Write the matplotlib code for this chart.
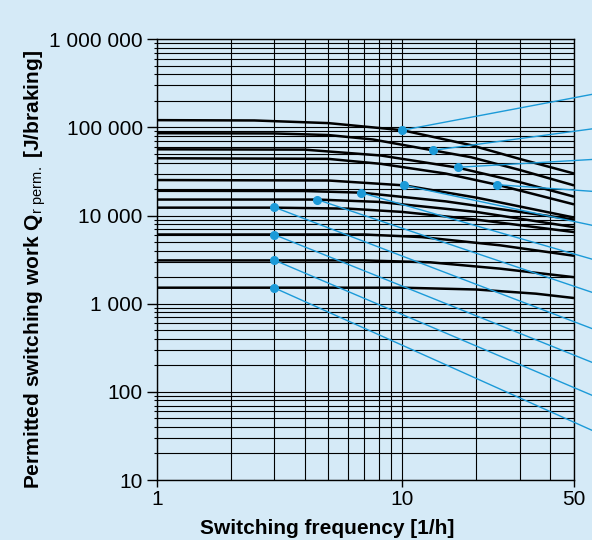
import matplotlib
matplotlib.use('Agg')
import matplotlib.pyplot as plt
from matplotlib.ticker import LogLocator, NullFormatter

plt.rcParams['font.family'] = ['Liberation Sans', 'DejaVu Sans']
plt.rcParams['mathtext.fontset'] = 'custom'
plt.rcParams['mathtext.rm'] = 'Liberation Sans'
plt.rcParams['mathtext.bf'] = 'Liberation Sans:bold'

BG = '#d5eaf7'
BLUE = '#1b9ad8'

# curves: switching frequency [1/h] -> permitted switching work [J]
c1_f = [1, 2.5, 5, 10, 19, 30, 50]
c1_q = [121000, 120000, 112000, 93000, 63000, 44000, 30000]
c2_f = [1, 3, 5, 7.6, 13.3, 19, 30, 50]
c2_q = [86000, 85500, 82000, 73000, 55000, 46000, 33000, 22000]
c3_f = [1, 4, 8.2, 16.8, 30, 50]
c3_q = [56500, 56000, 48000, 35000, 24000, 16400]
c4_f = [1, 5, 8.2, 15, 24.3, 50]
c4_q = [44700, 44000, 38600, 30000, 22400, 13400]
c5_f = [1, 5, 10.2, 20, 50]
c5_q = [25300, 25000, 22000, 16000, 9500]
c6_f = [1, 4, 6.8, 15, 50]
c6_q = [19100, 19000, 18200, 14500, 9000]
c7_f = [1, 4.5, 8, 20, 50]
c7_q = [15200, 15200, 14300, 11000, 7400]
c8_f = [1, 3, 6, 10, 20, 50]
c8_q = [12300, 12300, 12000, 11000, 9000, 6500]
c9_f = [1, 7, 12, 25, 50]
c9_q = [6100, 6100, 5700, 4600, 3500]
c10_f = [1, 7, 13, 25, 50]
c10_q = [3100, 3100, 2950, 2500, 2000]
c11_f = [1, 10, 20, 35, 50]
c11_q = [1520, 1520, 1450, 1300, 1160]

curves = [(c1_f, c1_q), (c2_f, c2_q), (c3_f, c3_q), (c4_f, c4_q),
          (c5_f, c5_q), (c6_f, c6_q), (c7_f, c7_q), (c8_f, c8_q),
          (c9_f, c9_q), (c10_f, c10_q), (c11_f, c11_q)]

# marker points and where their leader lines leave the picture
dot_f = [10, 13.3, 16.8, 24.3, 10.2, 6.8, 4.5, 3, 3, 3, 3]
dot_q = [93000, 55000, 35300, 22400, 22000, 18200, 15200, 12500, 6100, 3140, 1520]
lead_f = 60
lead_q = [239000, 96800, 43400, 18800, 7700, 3170, 1330, 515, 213, 90, 36]

ytick_vals = [10, 100, 1000, 10000, 100000, 1000000]
ytick_labels = ['10', '100', '1 000', '10 000', '100 000', '1 000 000']
xtick_vals = [1, 10, 50]
xtick_labels = ['1', '10', '50']

fig = plt.figure(figsize=(5.92, 5.40), dpi=100, facecolor=BG)
ax = fig.add_axes([156.7 / 592, 60 / 540, (574 - 156.7) / 592, 440.7 / 540])
ax.set_facecolor(BG)
ax.set_xscale('log')
ax.set_yscale('log')
ax.set_xlim(1, 50)
ax.set_ylim(10, 1000000)

ax.grid(which='both', color='black', lw=0.8)
ax.set_axisbelow(True)

for f, q in curves:
    ax.plot(f, q, color='black', lw=1.8, solid_capstyle='butt')

for df, dq, lq in zip(dot_f, dot_q, lead_q):
    ax.plot([df, lead_f], [dq, lq], color=BLUE, lw=1.0, clip_on=False, zorder=4)
ax.plot(dot_f, dot_q, 'o', color=BLUE, ms=5.5, zorder=5, clip_on=False)

ax.set_yticks(ytick_vals)
ax.set_yticklabels(ytick_labels)
ax.yaxis.set_minor_locator(LogLocator(base=10, subs=range(2, 10)))
ax.yaxis.set_minor_formatter(NullFormatter())
ax.set_xticks(xtick_vals)
ax.set_xticklabels(xtick_labels)
ax.xaxis.set_minor_locator(LogLocator(base=10, subs=range(2, 10)))
ax.xaxis.set_minor_formatter(NullFormatter())

ax.tick_params(which='major', width=1, color='black', labelsize=15)
ax.tick_params(axis='y', which='major', length=7, pad=3)
ax.tick_params(axis='x', which='major', length=5, pad=2)
ax.tick_params(axis='y', which='minor', length=2, width=0.8)
ax.tick_params(axis='x', which='minor', length=0)

for s in ax.spines.values():
    s.set_color('black')
    s.set_linewidth(1)

fig.text(327 / 592, 1 - 528 / 540, 'Switching frequency [1/h]', ha='center', va='center',
         fontsize=15, fontweight='bold')
fig.text(35 / 592, 1 - 270 / 540,
         r'Permitted switching work Q$_{\mathrm{r\ perm.}}$ [J/braking]',
         ha='center', va='center', rotation=90, fontsize=15, fontweight='bold')

fig.savefig('out.png', dpi=100, facecolor=BG)
